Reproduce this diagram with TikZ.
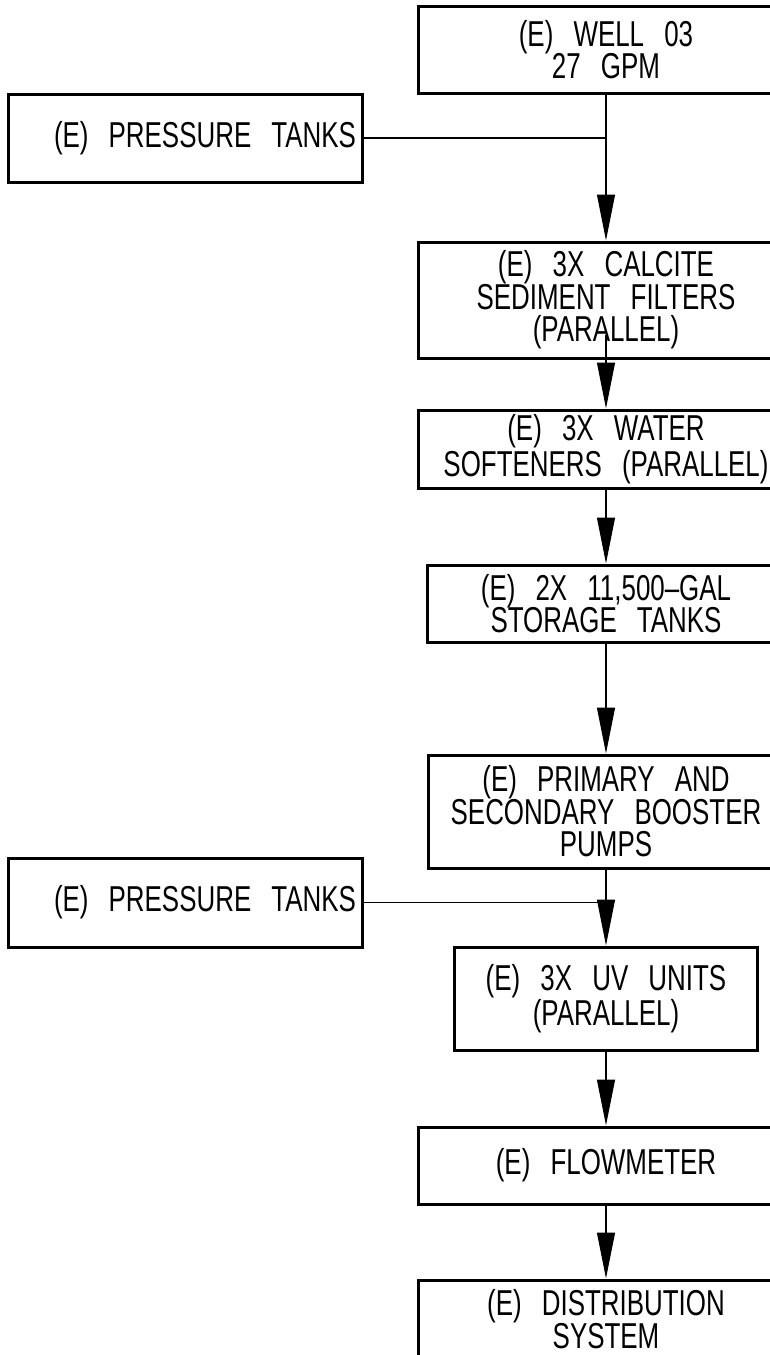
\documentclass[tikz,border=0pt]{standalone}
\usepackage{fontspec}
\setmainfont{Liberation Sans}[FakeStretch=0.72,WordSpace={2.8,0,0}]
\usetikzlibrary{arrows.meta}
\begin{document}
\begin{tikzpicture}[x=0.5pt,y=-0.5pt,
  every node/.style={font=\fontsize{18}{16.3}\selectfont},
  box/.style={draw,line width=1.5pt,minimum width=188pt,inner sep=2pt,align=center},
  tankbox/.style={box,minimum width=177pt,minimum height=44pt},
  flow/.style={line width=0.65pt,-{Triangle[length=23pt,width=9pt]}},
  pipe/.style={line width=0.65pt}]
\clip (0,0) rectangle (770,1355);
% treatment train, top to bottom
\node[box,minimum height=43.5pt] (well) at (606,49.5) {(E) WELL 03\\27 GPM};
\node[box,minimum height=58pt] (calcite) at (606,300) {(E) 3X CALCITE\\SEDIMENT FILTERS\\(PARALLEL)};
\node[box,minimum height=39pt] (soft) at (606,449) {(E) 3X WATER\\SOFTENERS (PARALLEL)};
\node[box,minimum width=179pt,minimum height=38.5pt] (storage) at (606,603.5) {(E) 2X 11,500--GAL\\STORAGE TANKS};
\node[box,minimum width=178pt,minimum height=56.5pt] (primary) at (606,811.5) {(E) PRIMARY AND\\SECONDARY BOOSTER\\PUMPS};
\node[box,minimum width=151.5pt,minimum height=51.5pt] (uv) at (606,998.5) {(E) 3X UV UNITS\\(PARALLEL)};
\node[box,minimum height=38.5pt] (flowmeter) at (606,1165.5) {(E) FLOWMETER};
\node[box,minimum height=39pt] (dist) at (606,1319) {(E) DISTRIBUTION\\SYSTEM};
% side tanks
\node[tankbox] (tanksA) at (185,138) {\hspace*{20pt}(E) PRESSURE TANKS};
\node[tankbox,minimum height=44.5pt] (tanksB) at (185,902.5) {\hspace*{20pt}(E) PRESSURE TANKS};
% connectors
\foreach \u/\v in {well/calcite,soft/storage,storage/primary,primary/uv,uv/flowmeter,flowmeter/dist}
  \draw[flow] (\u) -- (\v);
\draw[flow] ([yshift=12.5pt]calcite.south) -- (soft);
\draw[pipe] (tanksA.east) -- (tanksA.east -| well.south);
\draw[pipe] (tanksB.east) -- (tanksB.east -| primary.south);
\end{tikzpicture}
\end{document}
